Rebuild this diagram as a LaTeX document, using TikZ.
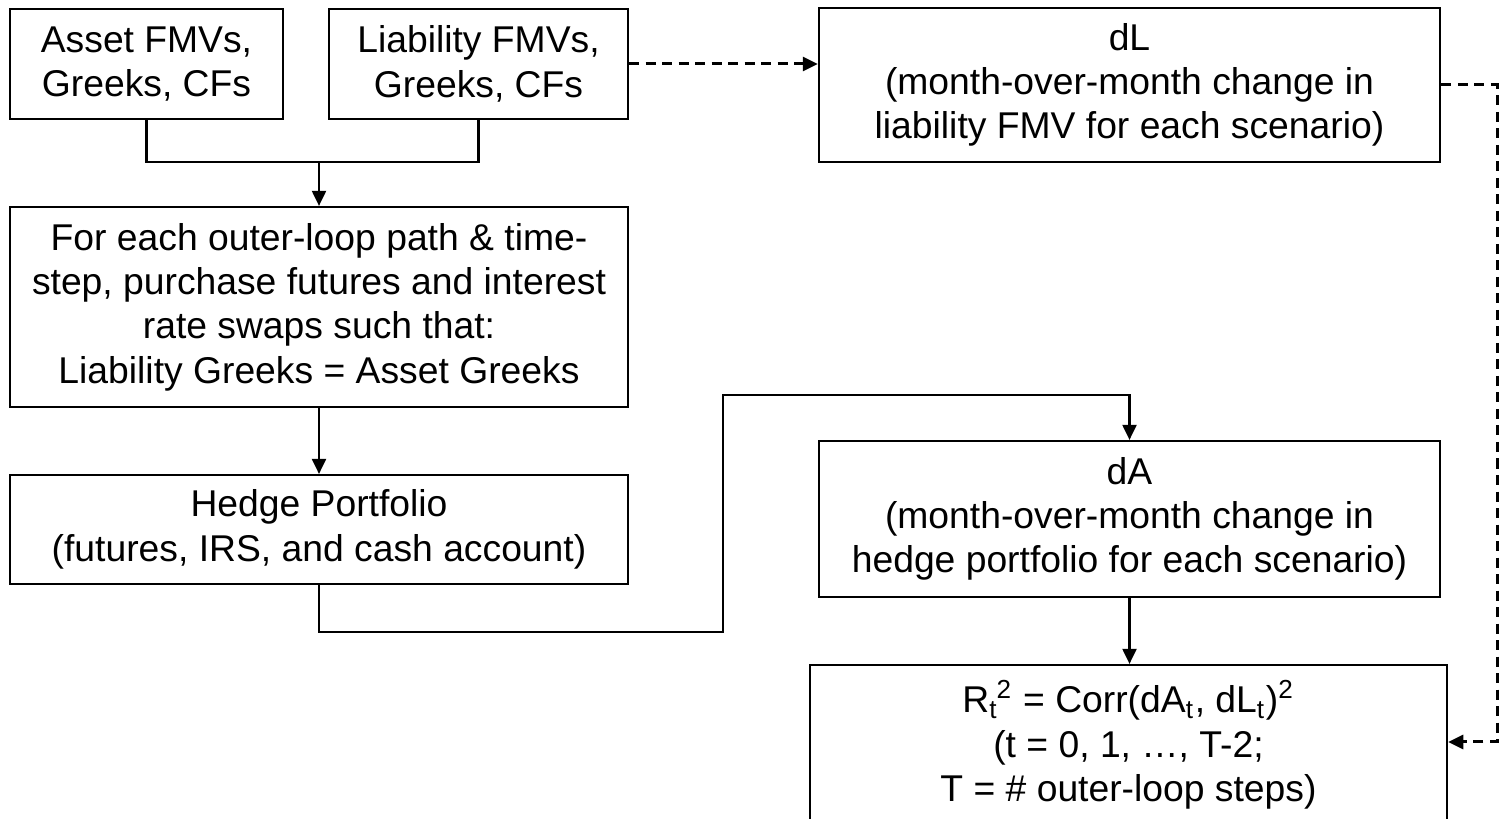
\documentclass[tikz,border=0pt]{standalone}
\usepackage{fontspec}
\setmainfont{Liberation Sans}
\usetikzlibrary{positioning,arrows.meta}

\begin{document}
\begin{tikzpicture}[x=0.01cm,y=-0.01cm,
    box/.style={draw, line width=0.6pt, align=center, inner sep=0pt,
      font=\fontsize{10.6}{12.6}\selectfont},
    link/.style={line width=0.6pt},
    arr/.style={link, -{Triangle[length=0.15cm,width=0.14cm]}},
    darr/.style={arr, line width=0.85pt, dash pattern=on 0.1cm off 0.065cm}]
    \useasboundingbox (0,0) rectangle (1499,819);

    % Kästen
    \node[box, minimum width=2.73cm, minimum height=1.10cm] (asset) at (146.5,64) {Asset FMVs,\\Greeks, CFs};
    \node[box, minimum width=2.99cm, minimum height=1.10cm] (liab) at (478.5,64) {Liability FMVs,\\Greeks, CFs};
    \node[box, minimum width=6.21cm, minimum height=1.54cm] (dL) at (1129.5,85) {dL\\(month-over-month change in\\liability FMV for each scenario)};
    \node[box, minimum width=6.18cm, minimum height=2.00cm] (each) at (319,307) {For each outer-loop path \& time-\\step, purchase futures and interest\\rate swaps such that:\\Liability Greeks = Asset Greeks};
    \node[box, minimum width=6.18cm, minimum height=1.09cm] (hedge) at (319,529.5) {Hedge Portfolio\\(futures, IRS, and cash account)};
    \node[box, minimum width=6.21cm, minimum height=1.56cm] (dA) at (1129.5,519) {dA\\(month-over-month change in\\hedge portfolio for each scenario)};
    \node[box, minimum width=6.37cm, minimum height=1.60cm] (rsq) at (1128.5,745) {R\textsubscript{t}\kern-0.5pt\textsuperscript{2} = Corr(dA\textsubscript{t}, dL\textsubscript{t})\textsuperscript{2}\\(t = 0, 1, …, T-2;\\T = \# outer-loop steps)};

    % Hilfspunkte
    \coordinate (join) at (319,162);
    \coordinate (low) at (723,632);
    \coordinate (high) at (723,395);
    \coordinate (rim) at (1497,0);

    % Verbindungen
    \draw[link] (asset.south) |- (join) -| (liab.south);
    \draw[arr] (join) -- (each.north);
    \draw[arr] (each.south) -- (hedge.north);
    \draw[arr] (hedge.south) |- (low) -- (high) -| (dA.north);
    \draw[arr] (dA.south) -- (dA.south |- rsq.north);
    \draw[darr] (liab.east |- 0,64) -- (dL.west |- 0,64);
    \draw[darr] (dL.east) -| (rim |- 0,742) -- (rsq.east |- 0,742);
\end{tikzpicture}
\end{document}
